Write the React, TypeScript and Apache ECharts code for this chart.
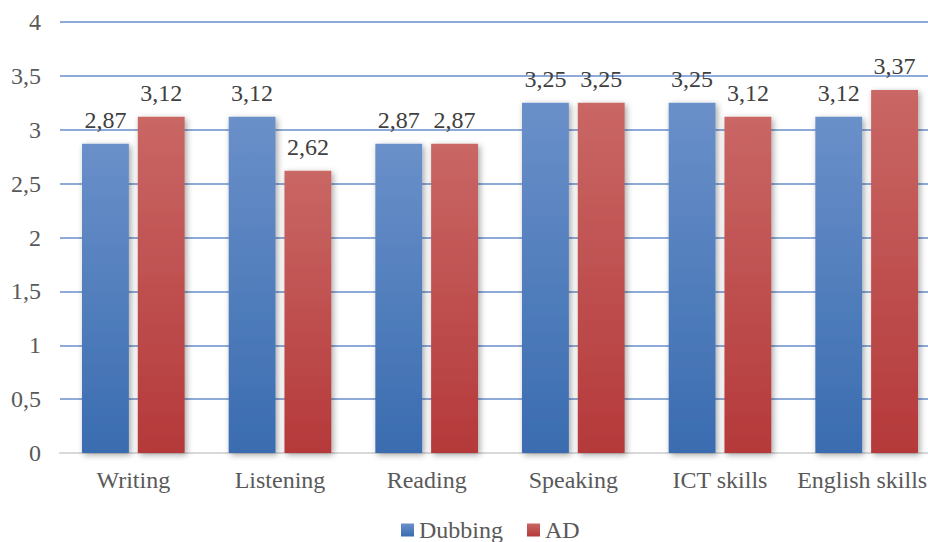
import React, { useEffect, useRef } from "react";
import * as echarts from "echarts";

const categories = ["Writing", "Listening", "Reading", "Speaking", "ICT skills", "English skills"];
const dubbing = [2.87, 3.12, 2.87, 3.25, 3.25, 3.12];
const ad = [3.12, 2.62, 2.87, 3.25, 3.12, 3.37];
const seriesNames = ["Dubbing", "AD"];

const fmt = (v: number) => String(v).replace(".", ",");
const FONT = "Liberation Serif";

export default function App() {
  const ref = useRef<HTMLDivElement>(null);
  useEffect(() => {
    const chart = echarts.init(ref.current!, null, { renderer: "svg" });
    const blue = new echarts.graphic.LinearGradient(0, 0, 0, 1, [
      { offset: 0, color: "#6a90c9" },
      { offset: 1, color: "#3a6cb0" },
    ]);
    const red = new echarts.graphic.LinearGradient(0, 0, 0, 1, [
      { offset: 0, color: "#c96765" },
      { offset: 1, color: "#b5393a" },
    ]);
    const mkLabel = () => ({
      show: true,
      position: "top",
      distance: 12,
      color: "#404040",
      fontFamily: FONT,
      fontSize: 24,
      formatter: (p: any) => fmt(p.value),
    });
    const last = categories.length - 1;
    const xData = categories.map((c, i) =>
      i === last ? { value: c, textStyle: { padding: [0, 9, 0, 0] } } : c
    );
    chart.setOption({
      animation: false,
      grid: { left: 60, right: 0, top: 22, bottom: 89 },
      legend: {
        top: 513,
        left: 396,
        itemWidth: 13,
        itemHeight: 13,
        itemGap: 24,
        icon: "rect",
        textStyle: { fontFamily: FONT, fontSize: 24, color: "#595959" },
        data: seriesNames,
      },
      xAxis: {
        type: "category",
        data: xData,
        axisTick: { show: false },
        axisLine: { lineStyle: { color: "#d9d9d9", width: 2 } },
        axisLabel: { color: "#595959", fontFamily: FONT, fontSize: 24, margin: 15, interval: 0 },
      },
      yAxis: {
        type: "value",
        min: 0,
        max: 4,
        interval: 0.5,
        axisLine: { show: false },
        axisTick: { show: false },
        splitLine: { lineStyle: { color: "#8eaad8", width: 2 } },
        axisLabel: {
          color: "#595959",
          fontFamily: FONT,
          fontSize: 24,
          margin: 19,
          formatter: (v: number) => fmt(v),
        },
      },
      series: [
        {
          name: seriesNames[0],
          type: "bar",
          data: dubbing,
          barGap: "19%",
          barCategoryGap: "30%",
          itemStyle: {
            color: blue,
            shadowColor: "rgba(0,0,0,0.35)",
            shadowBlur: 6,
            shadowOffsetX: 2,
            shadowOffsetY: 2,
          },
          label: mkLabel(),
        },
        {
          name: seriesNames[1],
          type: "bar",
          data: ad,
          itemStyle: {
            color: red,
            shadowColor: "rgba(0,0,0,0.35)",
            shadowBlur: 6,
            shadowOffsetX: 2,
            shadowOffsetY: 2,
          },
          label: mkLabel(),
        },
      ],
    });
    return () => chart.dispose();
  }, []);
  return (
    <div style={{ position: "absolute", left: 0, top: 0, width: 928, height: 542, overflow: "hidden" }}>
      <div ref={ref} style={{ width: 940, height: 542 }} />
    </div>
  );
}
